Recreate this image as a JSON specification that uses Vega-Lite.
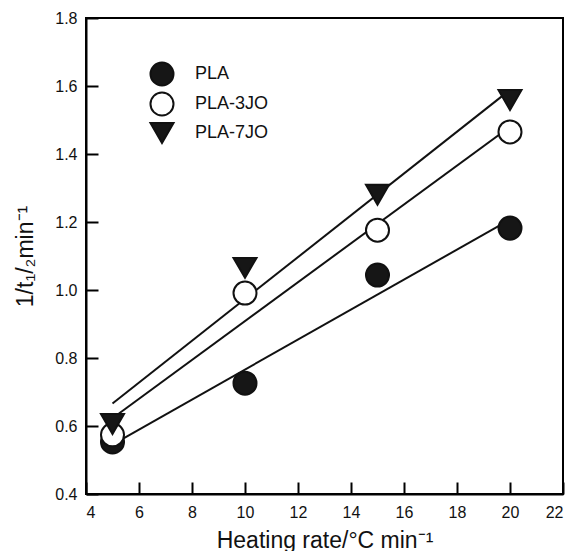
{
  "$schema": "https://vega.github.io/schema/vega-lite/v6.json",
  "autosize": {"type": "none"},
  "padding": {"left": 86, "top": 18, "right": 10, "bottom": 57},
  "width": 477,
  "height": 476,
  "background": "white",
  "config": {
    "font": "Liberation Sans",
    "view": {"stroke": "black", "strokeWidth": 2},
    "axis": {
      "grid": false,
      "domainColor": "black",
      "domainWidth": 2,
      "tickColor": "black",
      "tickWidth": 2,
      "tickSize": -12,
      "labelFont": "Liberation Sans",
      "labelFontSize": 16,
      "labelColor": "#111",
      "titleFont": "Liberation Sans",
      "titleFontSize": 23,
      "titleFontWeight": "normal",
      "titleColor": "#111"
    }
  },
  "data": {
    "values": [
      {"series": "PLA", "x": 5, "y": 0.553},
      {"series": "PLA", "x": 10, "y": 0.726},
      {"series": "PLA", "x": 15, "y": 1.044},
      {"series": "PLA", "x": 20, "y": 1.182},
      {"series": "PLA-3JO", "x": 5, "y": 0.574},
      {"series": "PLA-3JO", "x": 10, "y": 0.991},
      {"series": "PLA-3JO", "x": 15, "y": 1.176},
      {"series": "PLA-3JO", "x": 20, "y": 1.465},
      {"series": "PLA-7JO", "x": 5, "y": 0.606},
      {"series": "PLA-7JO", "x": 10, "y": 1.065},
      {"series": "PLA-7JO", "x": 15, "y": 1.28},
      {"series": "PLA-7JO", "x": 20, "y": 1.559}
    ]
  },
  "encoding": {
    "x": {
      "field": "x", "type": "quantitative",
      "scale": {"domain": [4, 22], "nice": false, "zero": false},
      "axis": {
        "values": [4, 6, 8, 10, 12, 14, 16, 18, 20, 22],
        "labelPadding": 22,
        "title": "Heating rate/°C min⁻¹",
        "titleY": 53,
        "titleBaseline": "alphabetic"
      }
    },
    "y": {
      "field": "y", "type": "quantitative",
      "scale": {"domain": [0.4, 1.8], "nice": false, "zero": false},
      "axis": {
        "values": [0.4, 0.6, 0.8, 1.0, 1.2, 1.4, 1.6, 1.8],
        "format": ".1f",
        "labelPadding": 21,
        "title": "1/t₁/₂min⁻¹",
        "titleX": -54,
        "titleBaseline": "alphabetic"
      }
    }
  },
  "layer": [
    {
      "transform": [{"regression": "y", "on": "x", "groupby": ["series"]}],
      "mark": {"type": "line", "color": "#111", "strokeWidth": 2},
      "encoding": {"detail": {"field": "series"}}
    },
    {
      "mark": {"type": "point", "filled": false, "stroke": "#111", "strokeWidth": 2, "opacity": 1},
      "encoding": {
        "shape": {
          "field": "series", "type": "nominal",
          "scale": {"domain": ["PLA", "PLA-3JO", "PLA-7JO"], "range": ["circle", "circle", "triangle-down"]},
          "legend": {
            "title": null,
            "orient": "none",
            "legendX": 63,
            "legendY": 43,
            "padding": 0,
            "labelFont": "Liberation Sans",
            "labelFontSize": 18,
            "labelColor": "#111",
            "labelOffset": 20,
            "rowPadding": -2,
            "symbolStrokeWidth": 2,
            "symbolStrokeColor": "#111"
          }
        },
        "fill": {
          "field": "series", "type": "nominal",
          "scale": {"domain": ["PLA", "PLA-3JO", "PLA-7JO"], "range": ["#161616", "white", "#161616"]}
        },
        "size": {
          "field": "series", "type": "nominal",
          "scale": {"domain": ["PLA", "PLA-3JO", "PLA-7JO"], "range": [530, 530, 580]}
        }
      }
    }
  ]
}
